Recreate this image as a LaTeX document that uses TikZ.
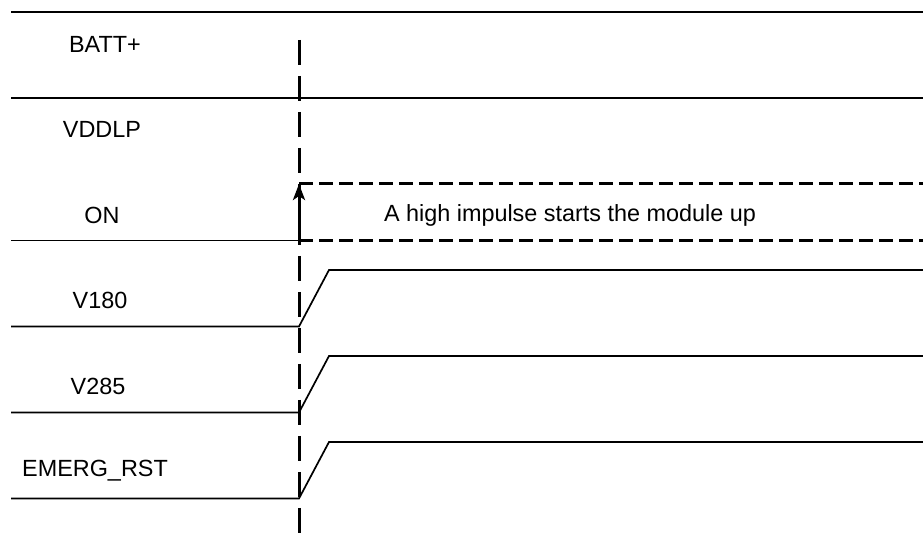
\documentclass[tikz,border=0pt]{standalone}
\usepackage{fontspec}
\setmainfont{Liberation Sans}
\usetikzlibrary{arrows.meta}

\begin{document}
\begin{tikzpicture}[x=0.5pt,y=-0.5pt,>={Stealth[length=8pt,width=6pt,inset=2pt]},semithick]
\tikzstyle{every node}=[text=black,inner sep=0pt]
\tikzstyle{signal}=[-,line width=0.85pt]
\tikzstyle{marker}=[-,line width=1.5pt,dash pattern=on 12.5pt off 5.5pt]
\tikzstyle{pulse}=[-,line width=1.5pt,dash pattern=on 7pt off 3pt]
\tikzset{font=\fontsize{11.7pt}{14}\selectfont}

        \useasboundingbox (0,0) rectangle (923,533);

        % signal names
        \node (batt)  at (105,44)  {BATT+};
        \node (vddlp) at (102,129) {VDDLP};
        \node (on)    at (102,215) {ON};
        \node (v180)  at (100,300) {V180};
        \node (v285)  at (98,386)  {V285};
        \node (rst)   at (95,471)  {EMERG\_RST};
        \node (note)  at (570,215) {A high impulse starts the module up};

        % supply lines
        \draw[signal] (11,12) -- (923,12);
        \draw[signal] (11,98) -- (923,98);

        % ON impulse
        \coordinate (onlow)  at (299,240.5);
        \coordinate (onhigh) at (299,184);
        \draw[signal] (11,240.5) -- (onlow);
        \draw[pulse] (onhigh) -- (923,184);
        \draw[pulse] (onlow) -- (923,240.5);

        % marker at power on
        \draw[marker] (299,40) -- (299,533);

        \draw[->,line width=1.5pt] (onlow) -- (onhigh);

        % regulators and reset
        \draw[signal] (11,326.5) -- (299,326.5) -- (329,270) -- (923,270);
        \draw[signal] (11,412.5) -- (299,412.5) -- (329,356) -- (923,356);
        \draw[signal] (11,498.5) -- (299,498.5) -- (329,442) -- (923,442);

\end{tikzpicture}
\end{document}
